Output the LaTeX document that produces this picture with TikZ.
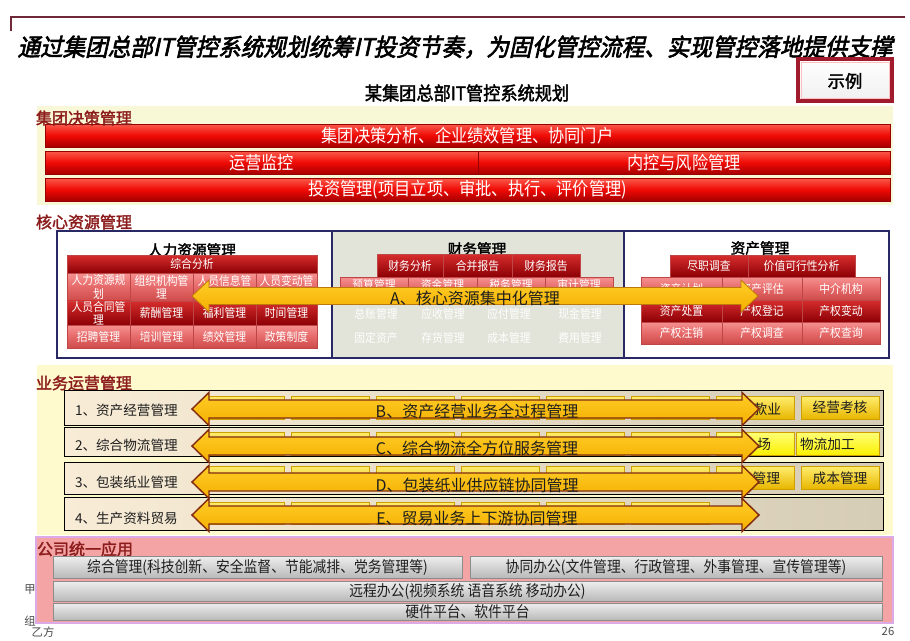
\documentclass[tikz,border=0pt]{standalone}
\usepackage{fontspec}
\setmainfont{Noto Sans CJK SC}
\newfontfamily\cjkn[FakeStretch=0.9]{Noto Sans CJK SC}
\newfontfamily\cjkt[FakeSlant=0.22,FakeBold=2.5,FakeStretch=0.94]{Noto Sans CJK SC}
\newfontfamily\cjkb[FakeBold=2]{Noto Sans CJK SC}
\newfontfamily\cjkbn[FakeBold=2,FakeStretch=0.92]{Noto Sans CJK SC}
\newfontfamily\cjk{Noto Sans CJK SC}
\usetikzlibrary{calc}
\definecolor{secred}{RGB}{140,28,28}
\definecolor{navy}{RGB}{40,40,100}
\definecolor{hdrline}{RGB}{110,40,55}
\definecolor{secAbg}{RGB}{248,248,214}
\definecolor{secCbg}{RGB}{255,250,205}
\definecolor{pinkbg}{RGB}{244,164,164}
\definecolor{lavender}{RGB}{220,170,230}
\definecolor{finbg}{RGB}{226,227,217}
\definecolor{rbTop}{RGB}{250,90,75}
\definecolor{rbMid}{RGB}{240,10,5}
\definecolor{rbBot}{RGB}{165,0,0}
\definecolor{rbLine}{RGB}{150,0,0}
\definecolor{dcTop}{RGB}{215,45,45}
\definecolor{dcBot}{RGB}{140,0,5}
\definecolor{lcTop}{RGB}{245,145,145}
\definecolor{lcMid}{RGB}{230,105,105}
\definecolor{lcBot}{RGB}{205,75,75}
\definecolor{cellLine}{RGB}{190,70,70}
\definecolor{rowL}{RGB}{248,236,214}
\definecolor{rowR}{RGB}{214,205,182}
\definecolor{goldTop}{RGB}{255,238,110}
\definecolor{goldBot}{RGB}{232,182,0}
\definecolor{goldLine}{RGB}{205,160,0}
\definecolor{ylwTop}{RGB}{255,255,120}
\definecolor{ylwBot}{RGB}{250,240,0}
\definecolor{arrTop}{RGB}{255,205,40}
\definecolor{arrBot}{RGB}{245,175,0}
\definecolor{arrLine}{RGB}{130,45,15}
\definecolor{arrLineA}{RGB}{190,120,10}
\definecolor{gbTop}{RGB}{238,238,238}
\definecolor{gbBot}{RGB}{185,185,185}
\definecolor{gbLine}{RGB}{140,140,140}
\definecolor{txtdark}{RGB}{30,30,30}
\definecolor{sampleRed}{RGB}{160,28,45}

\tikzset{
  hdr/.style={draw=hdrline,line width=1pt},
  seclabel/.style={anchor=west,text=secred,font=\cjkb\fontsize{12}{13}\selectfont},
  redbar/.style={draw=rbLine,line width=0.4pt,top color=rbTop,bottom color=rbBot,middle color=rbMid,text=white,font=\cjkn\fontsize{13.5}{15}\selectfont},
  dcell/.style={draw=cellLine,line width=0.4pt,top color=dcTop,bottom color=dcBot,text=white,align=center,font=\cjkn\fontsize{9}{10}\selectfont},
  lcell/.style={draw=cellLine,line width=0.4pt,top color=lcTop,bottom color=lcBot,middle color=lcMid,text=white,align=center,font=\cjkn\fontsize{9}{10}\selectfont},
  celltxt/.style={text=white,font=\cjkn\fontsize{9}{10}\selectfont},
  ptitle/.style={text=black,font=\cjkb\fontsize{11}{12}\selectfont},
  fadetxt/.style={text=white,font=\cjkn\fontsize{9}{10}\selectfont},
  rowbg/.style={draw=black,line width=0.6pt,left color=rowL,right color=rowR},
  rowlabel/.style={anchor=west,text=txtdark,font=\cjk\fontsize{10.2}{11}\selectfont},
  gold/.style={draw=goldLine,line width=0.4pt,top color=goldTop,bottom color=goldBot,text=txtdark,font=\cjk\fontsize{10.3}{11}\selectfont},
  ylw/.style={draw=goldLine,line width=0.4pt,top color=ylwTop,bottom color=ylwBot,text=txtdark,font=\cjk\fontsize{10.3}{11}\selectfont},
  goldtxt/.style={text=txtdark,font=\cjk\fontsize{10.3}{11}\selectfont},
  bigarrow/.style={draw=arrLine,line width=1.1pt,line join=miter,top color=arrTop,bottom color=arrBot},
  bigarrowA/.style={draw=arrLineA,line width=0.6pt,line join=miter,top color=arrTop,bottom color=arrBot},
  arrtxt/.style={text=txtdark,font=\cjk\fontsize{12}{13}\selectfont},
  graybar/.style={draw=gbLine,line width=0.4pt,top color=gbTop,bottom color=gbBot,text=txtdark,font=\cjkn\fontsize{11.5}{12}\selectfont},
  foot/.style={text=txtdark!80,font=\cjk\fontsize{8.5}{9}\selectfont},
  every node/.append style={inner sep=0pt,outer sep=0pt}
}
% name, x1, y1, x2, y2, style, text
\newcommand\bx[7]{\node[#6,minimum width={((#4)-(#2))*0.75pt},minimum height={((#5)-(#3))*0.75pt}] (#1) at ({((#2)+(#4))/2},{((#3)+(#5))/2}) {#7};}
% style, x1, x2, y, head half height, shaft half height
\newcommand\dbl[6]{\path[#1] (#2,#4) -- ({#2+17},{#4-#5}) -- ({#2+17},{#4-#6}) -- ({#3-17},{#4-#6}) -- ({#3-17},{#4-#5}) -- (#3,#4) -- ({#3-17},{#4+#5}) -- ({#3-17},{#4+#6}) -- ({#2+17},{#4+#6}) -- ({#2+17},{#4+#5}) -- cycle;}

\begin{document}
\begin{tikzpicture}[x=0.75pt,y=-0.75pt]
\useasboundingbox (0,0) rectangle (910,640);
\fill[white] (0,0) rectangle (910,640);

% ---------- header ----------
\draw[hdr] (11,31) -- (11,17) -- (905,17);
\node[font=\cjkt\fontsize{18}{20}\selectfont] (title) at (455,47) {通过集团总部IT管控系统规划统筹IT投资节奏，为固化管控流程、实现管控落地提供支撑};
\node[font=\cjkbn\fontsize{14}{15}\selectfont] (subtitle) at (467,93) {某集团总部IT管控系统规划};
\path[draw=sampleRed,line width=2.4pt,top color=white,bottom color=gray!12] (798,59) rectangle (892,101);
\draw[red!25,line width=0.6pt] (801,62) rectangle (889,98);
\node[font=\cjkb\fontsize{13}{14}\selectfont] (sample) at (845,81) {示例};

% ---------- footer texts ----------
\node[foot] (fj) at (30,590) {甲};
\node[foot] (fz) at (30,621) {组};
\node[foot] (fy) at (43,632) {乙方};
\node[foot] (fp) at (888,631) {26};

% ---------- section backgrounds ----------
\fill[secAbg] (37,106) rectangle (893,205);
\fill[secCbg] (37,365) rectangle (893,535);
\path[fill=pinkbg,draw=lavender,line width=1.8pt] (36,537) rectangle (893,623);

% ---------- 集团决策管理 ----------
\bx{ga}{45}{124}{890}{147}{redbar}{集团决策分析、企业绩效管理、协同门户}
\bx{gb}{45}{151}{478}{174}{redbar}{运营监控}
\bx{gc}{478}{151}{890}{174}{redbar}{内控与风险管理}
\bx{gd}{45}{178}{890}{201}{redbar}{投资管理(项目立项、审批、执行、评价管理)}
\node[seclabel] (secA) at (36,118) {集团决策管理};

% ---------- 核心资源管理 ----------
\node[seclabel] (secB) at (36,222) {核心资源管理};
\fill[finbg] (332,231) rectangle (624,358);
\draw[navy,line width=1.3pt] (57,231) rectangle (889,358);
\draw[navy,line width=1.3pt] (332,231) -- (332,358);
\draw[navy,line width=1.3pt] (624,231) -- (624,358);

% HR
\node[ptitle] (hrT) at (192,250) {人力资源管理};
\bx{hrA}{67}{255}{317}{273}{dcell}{综合分析}
\bx{hr11}{67}{273}{130}{301}{lcell}{人力资源规\\划}
\bx{hr12}{130}{273}{193}{301}{lcell}{组织机构管\\理}
\bx{hr13}{193}{273}{256}{301}{lcell}{人员信息管\\\phantom{理}}
\bx{hr14}{256}{273}{317}{301}{lcell}{人员变动管\\\phantom{理}}
\bx{hr21}{67}{301}{130}{325}{dcell}{人员合同管\\理}
\bx{hr22}{130}{301}{193}{325}{dcell}{薪酬管理}
\bx{hr23}{193}{301}{256}{325}{dcell}{福利管理}
\bx{hr24}{256}{301}{317}{325}{dcell}{时间管理}
\bx{hr31}{67}{325}{130}{348}{lcell}{招聘管理}
\bx{hr32}{130}{325}{193}{348}{lcell}{培训管理}
\bx{hr33}{193}{325}{256}{348}{lcell}{绩效管理}
\bx{hr34}{256}{325}{317}{348}{lcell}{政策制度}

% Finance
\node[ptitle] (fiT) at (477,249) {财务管理};
\bx{fi11}{377}{254}{443}{277}{dcell}{财务分析}
\bx{fi12}{443}{254}{512}{277}{dcell}{合并报告}
\bx{fi13}{512}{254}{580}{277}{dcell}{财务报告}
\bx{fi21}{340}{277}{408}{299}{lcell}{}
\bx{fi22}{408}{277}{477}{299}{lcell}{}
\bx{fi23}{477}{277}{545}{299}{lcell}{}
\bx{fi24}{545}{277}{613}{299}{lcell}{}
\node[celltxt] (fi21t) at (374,285) {预算管理};
\node[celltxt] (fi22t) at (442.5,285) {资金管理};
\node[celltxt] (fi23t) at (511,285) {税务管理};
\node[celltxt] (fi24t) at (579,285) {审计管理};
\node[fadetxt] (fi31) at (376,314) {总账管理};
\node[fadetxt] (fi32) at (443,314) {应收管理};
\node[fadetxt] (fi33) at (509,314) {应付管理};
\node[fadetxt] (fi34) at (580,314) {现金管理};
\node[fadetxt] (fi41) at (376,338) {固定资产};
\node[fadetxt] (fi42) at (443,338) {存货管理};
\node[fadetxt] (fi43) at (509,338) {成本管理};
\node[fadetxt] (fi44) at (580,338) {费用管理};

% Assets
\node[ptitle] (asT) at (760,248) {资产管理};
\bx{as11}{670}{255}{748}{277}{dcell}{尽职调查}
\bx{as12}{748}{255}{855}{277}{dcell}{价值可行性分析}
\bx{as21}{641}{277}{722}{300}{lcell}{资产计划}
\bx{as22}{722}{277}{802}{300}{lcell}{资产评估}
\bx{as23}{802}{277}{880}{300}{lcell}{中介机构}
\bx{as31}{641}{300}{722}{322}{dcell}{资产处置}
\bx{as32}{722}{300}{802}{322}{dcell}{产权登记}
\bx{as33}{802}{300}{880}{322}{dcell}{产权变动}
\bx{as41}{641}{322}{722}{344}{lcell}{产权注销}
\bx{as42}{722}{322}{802}{344}{lcell}{产权调查}
\bx{as43}{802}{322}{880}{344}{lcell}{产权查询}

% Arrow A
\dbl{bigarrowA}{192}{758}{296}{16}{8.5}
\node[arrtxt] (aT) at (475,298) {A、核心资源集中化管理};

% ---------- 业务运营管理 ----------
\node[seclabel] (secC) at (36,383) {业务运营管理};
\bx{r1}{64}{390}{883}{425}{rowbg}{}
\bx{r2}{64}{427}{883}{456}{rowbg}{}
\bx{r3}{64}{462}{883}{494}{rowbg}{}
\bx{r4}{64}{497}{883}{530}{rowbg}{}
\node[rowlabel] (l1) at (75,410) {1、资产经营管理};
\node[rowlabel] (l2) at (75,445) {2、综合物流管理};
\node[rowlabel] (l3) at (75,482) {3、包装纸业管理};
\node[rowlabel] (l4) at (75,518) {4、生产资料贸易};

\foreach \i in {0,...,6} {\bx{ba\i}{206+85*\i}{396}{284+85*\i}{419}{gold}{}}
\bx{ba7}{801}{396}{879}{419}{gold}{经营考核}
\foreach \i in {0,...,5} {\bx{bb\i}{206+85*\i}{432}{284+85*\i}{455}{gold}{}}
\bx{bb6}{716}{432}{794}{455}{ylw}{}
\bx{bb7}{796}{432}{879}{455}{ylw}{}
\foreach \i in {0,...,7} {\bx{bc\i}{206+85*\i}{466}{284+85*\i}{489}{gold}{}}
\foreach \i in {0,...,5} {\bx{bd\i}{206+85*\i}{502}{284+85*\i}{524}{gold}{}}
\node[goldtxt,anchor=east] (t1) at (781,409) {款业};
\node[goldtxt,anchor=east] (t2) at (771,444) {场};
\node[goldtxt,anchor=west] (t2b) at (800,444) {物流加工};
\node[goldtxt,anchor=east] (t3) at (780,478) {管理};
\node[goldtxt] (t3b) at (840,478) {成本管理};

\dbl{bigarrow}{192}{759}{409}{16.5}{9}
\node[arrtxt] (bT) at (477,411) {B、资产经营业务全过程管理};
\dbl{bigarrow}{192}{759}{446}{16.5}{9}
\node[arrtxt] (cT) at (477,448) {C、综合物流全方位服务管理};
\dbl{bigarrow}{192}{759}{482}{16.5}{9}
\node[arrtxt] (dT) at (477,485) {D、包装纸业供应链协同管理};
\dbl{bigarrow}{192}{759}{515}{16.5}{9}
\node[arrtxt] (eT) at (477,518) {E、贸易业务上下游协同管理};

% ---------- 公司统一应用 ----------
\node[seclabel] (secD) at (37,549) {公司统一应用};
\bx{u1}{53}{556}{462}{578}{graybar}{综合管理(科技创新、安全监督、节能减排、党务管理等)}
\bx{u2}{470}{556}{882}{578}{graybar}{协同办公(文件管理、行政管理、外事管理、宣传管理等)}
\bx{u3}{53}{581}{882}{601}{graybar}{远程办公(视频系统 语音系统 移动办公)}
\bx{u4}{53}{603}{882}{620}{graybar}{硬件平台、软件平台}
\end{tikzpicture}
\end{document}
